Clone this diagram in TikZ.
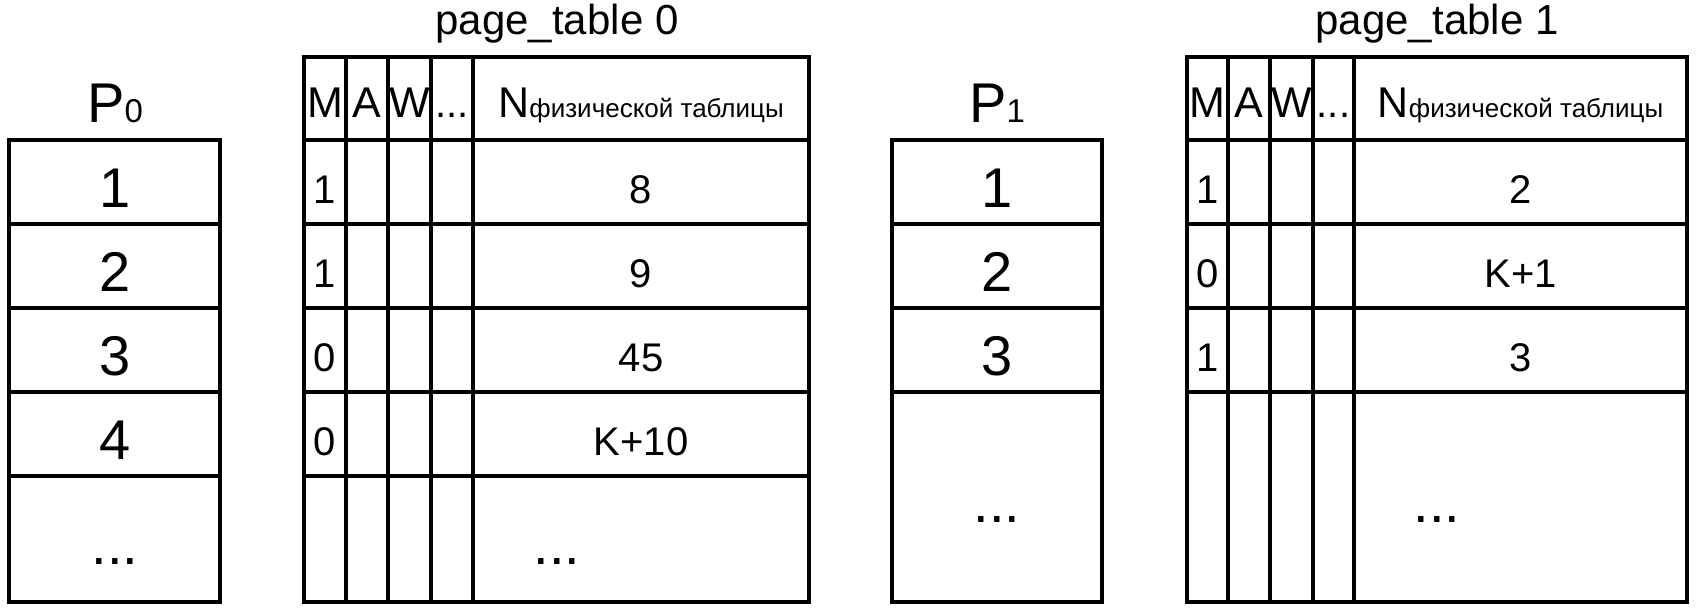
\documentclass[tikz,border=0pt]{standalone}
\usepackage{fontspec}
\setmainfont{Liberation Sans}
\definecolor{ink}{HTML}{000000}
\tikzset{
  tbl/.style={line width=3.8pt, draw=ink},
  ttl/.style={text=ink, anchor=base, inner sep=0pt, font=\fontsize{42}{48}\selectfont},
  plab/.style={text=ink, anchor=base, inner sep=0pt, font=\fontsize{56}{64}\selectfont},
  num/.style={text=ink, anchor=base, inner sep=0pt, font=\fontsize{56}{64}\selectfont},
  hcell/.style={text=ink, anchor=base, inner sep=0pt, font=\fontsize{43}{48}\selectfont},
  cell/.style={text=ink, anchor=base, inner sep=0pt, font=\fontsize{40}{48}\selectfont},
}
\newcommand{\subsz}{\fontsize{33}{36}\selectfont}
\newcommand{\hdrsz}{\fontsize{26}{30}\selectfont}

\begin{document}
\begin{tikzpicture}[x=1pt, y=-1pt]
  \useasboundingbox (0,0) rectangle (1696,608);

  % process 0
  \draw[tbl] (9,140) rectangle (220,602);
  \draw[tbl] (9,224)--(220,224) (9,308)--(220,308) (9,392)--(220,392) (9,476)--(220,476);
  \node[plab] (p0) at (115,122) {P{\subsz 0}};
  \node[num] (p0r1) at (115,207) {1};
  \node[num] (p0r2) at (115,291) {2};
  \node[num] (p0r3) at (115,375) {3};
  \node[num] (p0r4) at (115,459) {4};
  \node[num] (p0rx) at (115,564) {...};

  % page_table 0
  \node[ttl] (pt0) at (557,34) {page\_table 0};
  \draw[tbl] (304,57) rectangle (809,602);
  \draw[tbl] (304,140)--(809,140) (304,224)--(809,224) (304,308)--(809,308) (304,392)--(809,392) (304,476)--(809,476);
  \draw[tbl] (346,57)--(346,602) (388,57)--(388,602) (431,57)--(431,602) (473,57)--(473,602);
  \node[hcell] (pt0m) at (325,117) {M};
  \node[hcell] (pt0a) at (367,117) {A};
  \node[hcell] (pt0w) at (409.5,117) {W};
  \node[cell] (pt0d) at (452,117) {...};
  \node[hcell] (pt0n) at (641,117) {N{\hdrsz физической таблицы}};
  \node[cell] (pt0m1) at (325,203) {1};
  \node[cell] (pt0m2) at (325,287) {1};
  \node[cell] (pt0m3) at (325,371) {0};
  \node[cell] (pt0m4) at (325,455) {0};
  \node[cell] (pt0n1) at (641,203) {8};
  \node[cell] (pt0n2) at (641,287) {9};
  \node[cell] (pt0n3) at (641,371) {45};
  \node[cell] (pt0n4) at (641,455) {K+10};
  \node[num] (pt0x) at (557,564) {...};

  % process 1
  \draw[tbl] (892,140) rectangle (1102,602);
  \draw[tbl] (892,224)--(1102,224) (892,308)--(1102,308) (892,392)--(1102,392);
  \node[plab] (p1) at (997,122) {P{\subsz 1}};
  \node[num] (p1r1) at (997,207) {1};
  \node[num] (p1r2) at (997,291) {2};
  \node[num] (p1r3) at (997,375) {3};
  \node[num] (p1rx) at (997,522) {...};

  % page_table 1
  \node[ttl] (pt1) at (1437,34) {page\_table 1};
  \draw[tbl] (1187,57) rectangle (1687,602);
  \draw[tbl] (1187,140)--(1687,140) (1187,224)--(1687,224) (1187,308)--(1687,308) (1187,392)--(1687,392);
  \draw[tbl] (1228,57)--(1228,602) (1270,57)--(1270,602) (1313,57)--(1313,602) (1354,57)--(1354,602);
  \node[hcell] (pt1m) at (1207.5,117) {M};
  \node[hcell] (pt1a) at (1249,117) {A};
  \node[hcell] (pt1w) at (1291.5,117) {W};
  \node[cell] (pt1d) at (1333.5,117) {...};
  \node[hcell] (pt1n) at (1520.5,117) {N{\hdrsz физической таблицы}};
  \node[cell] (pt1m1) at (1207.5,203) {1};
  \node[cell] (pt1m2) at (1207.5,287) {0};
  \node[cell] (pt1m3) at (1207.5,371) {1};
  \node[cell] (pt1n1) at (1520.5,203) {2};
  \node[cell] (pt1n2) at (1520.5,287) {K+1};
  \node[cell] (pt1n3) at (1520.5,371) {3};
  \node[num] (pt1x) at (1437,522) {...};
\end{tikzpicture}
\end{document}
